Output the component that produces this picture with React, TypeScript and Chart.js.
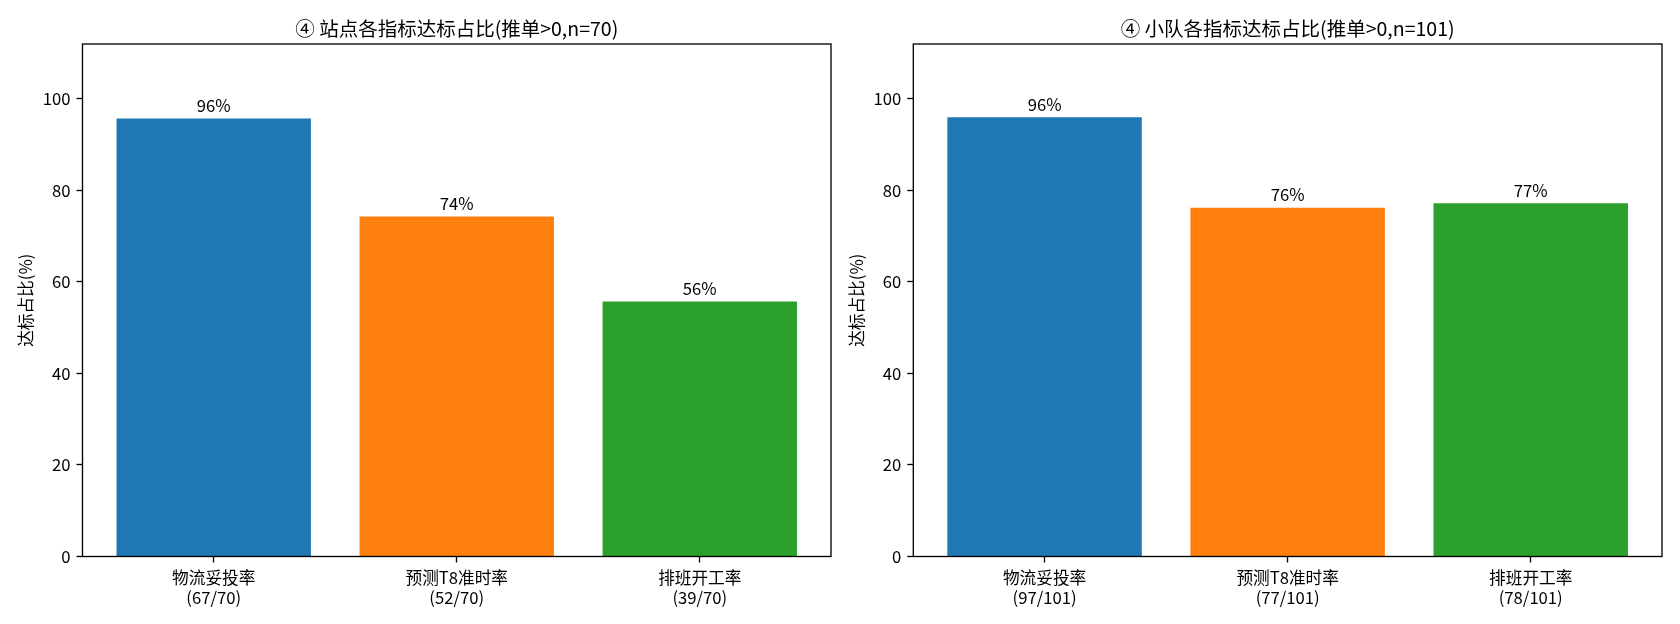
import { useEffect, useRef, type FC } from 'react';
import { Chart, registerables, type Plugin } from 'chart.js';

Chart.register(...registerables);

const FONT = '"Noto Sans CJK SC", "Noto Sans", sans-serif';

// shared
const categories = ['物流妥投率', '预测T8准时率', '排班开工率'];
const barColors = ['#1f77b4', '#ff7f0e', '#2ca02c'];
const yTicks = [0, 20, 40, 60, 80, 100];
const yMax = 112;

// station chart
const stationTitle = '④ 站点各指标达标占比(推单>0,n=70)';
const stationCounts = ['(67/70)', '(52/70)', '(39/70)'];
const stationValues = [95.7, 74.3, 55.7];
const stationLabels = ['96%', '74%', '56%'];

// team chart
const teamTitle = '④ 小队各指标达标占比(推单>0,n=101)';
const teamCounts = ['(97/101)', '(77/101)', '(78/101)'];
const teamValues = [96.0, 76.2, 77.2];
const teamLabels = ['96%', '76%', '77%'];

const yTitle = '达标占比(%)';

const frame: Plugin<'bar'> = {
    id: 'frame',
    afterDraw(chart) {
        const { ctx, chartArea: a } = chart;
        ctx.save();
        ctx.strokeStyle = '#000';
        ctx.lineWidth = 1.33;
        ctx.strokeRect(a.left, a.top, a.right - a.left, a.bottom - a.top);
        ctx.restore();
    }
};

const valueLabels = (labels: string[], values: number[]): Plugin<'bar'> => ({
    id: 'valueLabels',
    afterDatasetsDraw(chart) {
        const { ctx } = chart;
        const y = chart.scales.y;
        const meta = chart.getDatasetMeta(0);
        ctx.save();
        ctx.font = `16.67px ${FONT}`;
        ctx.fillStyle = '#000';
        ctx.textAlign = 'center';
        ctx.textBaseline = 'bottom';
        meta.data.forEach((bar, i) => {
            ctx.fillText(labels[i], bar.x, y.getPixelForValue(values[i] + 1));
        });
        ctx.restore();
    }
});

const BarPanel: FC<{
    title: string
    counts: string[]
    values: number[]
    labels: string[]
    padLeft: number
    padRight: number
    axisWidth: number
}> = ({ title, counts, values, labels, padLeft, padRight, axisWidth }) => {
    const canvas = useRef<HTMLCanvasElement>(null);

    useEffect(() => {
        const chart = new Chart(canvas.current as HTMLCanvasElement, {
            type: 'bar',
            data: {
                datasets: [{
                    data: values.map((v, i) => ({ x: i, y: v })),
                    backgroundColor: barColors,
                    borderWidth: 0,
                    barPercentage: 0.8,
                    categoryPercentage: 1
                }]
            },
            options: {
                responsive: false,
                animation: false,
                layout: { padding: { left: padLeft, right: padRight, top: 0, bottom: 0 } },
                plugins: {
                    legend: { display: false },
                    tooltip: { enabled: false },
                    title: {
                        display: true,
                        fullSize: false,
                        text: title,
                        color: '#000',
                        font: { family: FONT, size: 19.5, weight: 'normal', lineHeight: 1.2 },
                        padding: { top: 16.8, bottom: 3.8 }
                    }
                },
                scales: {
                    x: {
                        type: 'linear',
                        min: -0.54,
                        max: 2.54,
                        offset: false,
                        border: { display: false },
                        grid: {
                            offset: false,
                            drawOnChartArea: false,
                            drawTicks: true,
                            tickLength: 6,
                            tickColor: '#000',
                            tickWidth: 1.33
                        },
                        afterBuildTicks: (s) => {
                            s.ticks = categories.map((_, i) => ({ value: i }));
                        },
                        afterFit: (s) => {
                            s.height = 67.5;
                        },
                        ticks: {
                            color: '#000',
                            padding: 6,
                            maxRotation: 0,
                            autoSkip: false,
                            font: { family: FONT, size: 16.67, lineHeight: 1.15 },
                            callback: (_v, i) => [categories[i], counts[i]]
                        }
                    },
                    y: {
                        min: 0,
                        max: yMax,
                        border: { display: false },
                        grid: {
                            drawOnChartArea: false,
                            drawTicks: true,
                            tickLength: 6,
                            tickColor: '#000',
                            tickWidth: 1.33
                        },
                        afterBuildTicks: (s) => {
                            s.ticks = yTicks.map(v => ({ value: v }));
                        },
                        afterFit: (s) => {
                            s.width = axisWidth;
                        },
                        ticks: {
                            color: '#000',
                            padding: 6,
                            font: { family: FONT, size: 16.67 },
                            callback: (v) => String(v)
                        },
                        title: {
                            display: true,
                            text: yTitle,
                            color: '#000',
                            padding: { top: 0, bottom: 0 },
                            font: { family: FONT, size: 16.67, lineHeight: 1.2 }
                        }
                    }
                }
            },
            plugins: [frame, valueLabels(labels, values)]
        });

        return () => {
            chart.destroy();
        };
    }, []);

    return (
        <canvas
            ref={canvas}
            width={840}
            height={624}
            style={{ width: 840, height: 624, display: 'block' }}
            role="img"
            aria-label={title}
        ></canvas>
    );
};

const App: FC = () => (
    <div style={{ position: 'absolute', left: 0, top: 0, width: 1680, height: 624, display: 'flex', background: '#fff' }}>
        <BarPanel
            title={stationTitle}
            counts={stationCounts}
            values={stationValues}
            labels={stationLabels}
            padLeft={16}
            padRight={9}
            axisWidth={66.5}
        />
        <BarPanel
            title={teamTitle}
            counts={teamCounts}
            values={teamValues}
            labels={teamLabels}
            padLeft={7}
            padRight={18}
            axisWidth={66.3}
        />
    </div>
);

export default App;
